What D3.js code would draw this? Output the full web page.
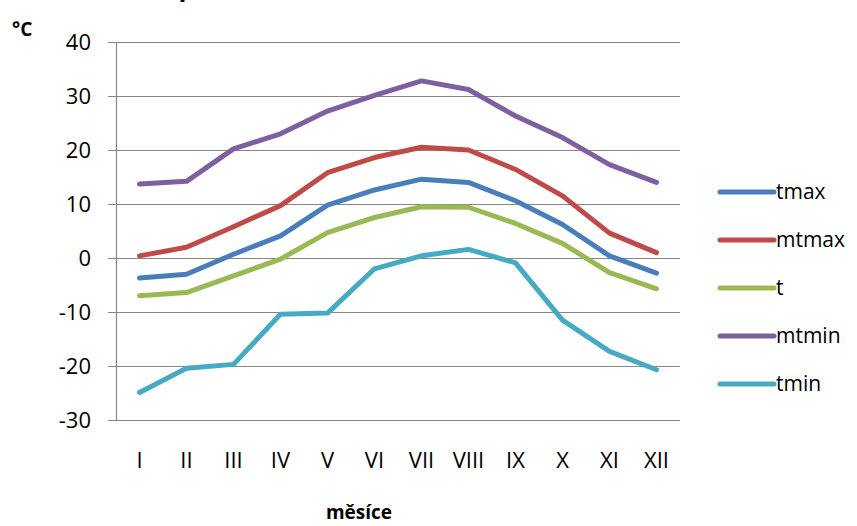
<!DOCTYPE html>
<html>
<head>
<meta charset="utf-8">
<script src="https://cdn.jsdelivr.net/npm/d3@7"></script>
<style>
  body { margin: 0; background: #fff; }
  svg { display: block; }
</style>
</head>
<body>
<div id="chart"></div>
<script>
// Months (Roman numerals) on the category axis.
const months = ["I", "II", "III", "IV", "V", "VI", "VII", "VIII", "IX", "X", "XI", "XII"];

// Series values (°C).
const tmax = [-3.7, -3.0, 0.7, 4.1, 9.8, 12.6, 14.6, 14.0, 10.6, 6.2, 0.4, -2.8];
const mtmax = [0.4, 2.0, 5.8, 9.7, 15.8, 18.6, 20.5, 20.0, 16.4, 11.5, 4.6, 1.0];
const t = [-7.0, -6.4, -3.3, -0.2, 4.7, 7.5, 9.5, 9.4, 6.4, 2.7, -2.7, -5.7];
const mtmin = [13.7, 14.2, 20.2, 23.0, 27.2, 30.1, 32.8, 31.2, 26.3, 22.3, 17.3, 14.0];
const tmin = [-24.9, -20.4, -19.7, -10.4, -10.2, -2.0, 0.4, 1.6, -0.9, -11.5, -17.3, -20.7];

const seriesNames = ["tmax", "mtmax", "t", "mtmin", "tmin"];
const seriesValues = [tmax, mtmax, t, mtmin, tmin];
const seriesColors = ["#4a7ebb", "#be4b48", "#98b954", "#7d60a0", "#46aac5"];

// Y tick labels.
const yTicks = [-30, -20, -10, 0, 10, 20, 30, 40];

const width = 857;
const height = 526;
const plot = { left: 116, right: 680, top: 42, bottom: 420 };
const font = "'Open Sans', 'Noto Sans', sans-serif";

const svg = d3.select("#chart")
  .append("svg")
  .attr("width", width)
  .attr("height", height)
  .attr("font-family", font);

// Scales.
const x = d3.scaleBand()
  .domain(months)
  .range([plot.left, plot.right]);

const y = d3.scaleLinear()
  .domain([-30, 40])
  .range([plot.bottom, plot.top]);

// Horizontal gridlines (with the small tick stubs on the left).
svg.append("g")
  .selectAll("line")
  .data(yTicks)
  .join("line")
  .attr("x1", plot.left - 8)
  .attr("x2", plot.right)
  .attr("y1", (d) => Math.round(y(d)) + 0.5)
  .attr("y2", (d) => Math.round(y(d)) + 0.5)
  .attr("stroke", "#868686")
  .attr("stroke-width", 1.2);

// Vertical axis line.
svg.append("line")
  .attr("x1", plot.left + 0.5)
  .attr("x2", plot.left + 0.5)
  .attr("y1", plot.top)
  .attr("y2", plot.bottom)
  .attr("stroke", "#868686")
  .attr("stroke-width", 1.2);

// Y tick labels.
svg.append("g")
  .selectAll("text")
  .data(yTicks)
  .join("text")
  .attr("x", 91)
  .attr("y", (d) => y(d) + 8)
  .attr("text-anchor", "end")
  .attr("font-size", 22)
  .attr("fill", "#000")
  .text((d) => d);

// X tick labels.
svg.append("g")
  .selectAll("text")
  .data(months)
  .join("text")
  .attr("x", (d) => x(d) + x.bandwidth() / 2)
  .attr("y", 468)
  .attr("text-anchor", "middle")
  .attr("font-size", 22)
  .attr("fill", "#000")
  .text((d) => d);

// Axis titles.
svg.append("text")
  .attr("x", 359)
  .attr("y", 519)
  .attr("text-anchor", "middle")
  .attr("font-size", 19)
  .attr("font-weight", "bold")
  .text("měsíce");

svg.append("text")
  .attr("x", 12)
  .attr("y", 36)
  .attr("font-size", 19)
  .attr("font-weight", "bold")
  .text("°C");

// Chart title, mostly cut off by the top edge.
svg.append("text")
  .attr("x", 148)
  .attr("y", -4)
  .attr("font-size", 26)
  .attr("font-weight", "bold")
  .text("Teplota");

// Lines.
const line = d3.line()
  .x((d, i) => x(months[i]) + x.bandwidth() / 2)
  .y((d) => y(d));

svg.append("g")
  .selectAll("path")
  .data(seriesValues)
  .join("path")
  .attr("d", line)
  .attr("fill", "none")
  .attr("stroke", (d, i) => seriesColors[i])
  .attr("stroke-width", 5)
  .attr("stroke-linejoin", "round")
  .attr("stroke-linecap", "round");

// Legend.
const legend = svg.append("g")
  .selectAll("g")
  .data(seriesNames)
  .join("g")
  .attr("transform", (d, i) => `translate(720, ${192 + i * 48})`);

legend.append("line")
  .attr("x1", 0)
  .attr("x2", 54)
  .attr("stroke", (d, i) => seriesColors[i])
  .attr("stroke-width", 5)
  .attr("stroke-linecap", "round");

legend.append("text")
  .attr("x", 56)
  .attr("y", 7)
  .attr("font-size", 21)
  .text((d) => d);
</script>
</body>
</html>
